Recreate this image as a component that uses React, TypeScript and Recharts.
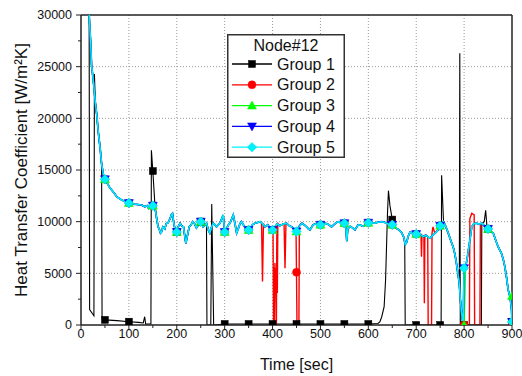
import React from 'react';
import { LineChart, Line, XAxis, YAxis, CartesianGrid, ReferenceLine, Legend, Label } from 'recharts';

const FONT = '"Liberation Sans", Arial, Helvetica, sans-serif';

const legendTitle = 'Node#12';
const seriesNames = ['Group 1', 'Group 2', 'Group 3', 'Group 4', 'Group 5'];
const xTitle = 'Time [sec]';
const yTitle = 'Heat Transfer Coefficient [W/m\u00B2K]';

const xTicks = [0, 50, 100, 150, 200, 250, 300, 350, 400, 450, 500, 550, 600, 650, 700, 750, 800, 850, 900];
const yTicks = [0, 2500, 5000, 7500, 10000, 12500, 15000, 17500, 20000, 22500, 25000, 27500, 30000];
const xGrid = [100, 200, 300, 400, 500, 600, 700, 800];
const yGrid = [5000, 10000, 15000, 20000, 25000];

// shared time base of groups 3, 4, 5
const curveTimes = [
  17, 20, 22, 26, 30, 33, 36, 40, 43, 47,
  50, 55, 60, 67, 75, 85, 95, 100, 110, 120,
  127, 133, 138, 141, 145, 150, 153, 156, 158, 161,
  164, 166, 168, 171, 175, 178, 182, 186, 189, 191,
  194, 197, 200, 203, 207, 210, 214, 217, 219, 222,
  226, 230, 233, 237, 241, 245, 250, 255, 259, 262,
  266, 269, 272, 276, 280, 283, 287, 290, 294, 297,
  300, 304, 308, 311, 315, 318, 322, 325, 329, 332,
  335, 339, 343, 346, 350, 354, 358, 363, 368, 374,
  379, 384, 390, 395, 400, 405, 410, 415, 419, 424,
  429, 435, 440, 445, 450, 455, 461, 466, 471, 475,
  478, 482, 485, 490, 495, 500, 505, 510, 513, 518,
  523, 528, 533, 537, 542, 546, 550, 553, 555, 557,
  562, 567, 572, 576, 579, 584, 589, 594, 600, 607,
  614, 620, 628, 633, 638, 644, 650, 654, 659, 664,
  670, 674, 677, 680, 683, 687, 694, 700, 705, 710,
  715, 720, 725, 729, 735, 739, 744, 747, 750, 753,
  757, 762, 767, 772, 777, 781, 784, 787, 790, 792,
  795, 797, 798, 800, 803, 806, 809, 813, 816, 820,
  826, 831, 837, 842, 846, 850, 854, 861, 866, 871,
  875, 878, 882, 885, 888, 892, 896, 899, 900,
];

const group5Values = [
  30000, 27500, 25200, 23500, 21500, 20300, 18700, 17100, 15600, 14500,
  14100, 13700, 13300, 12900, 12400, 12100, 11900, 11800, 11700, 11650,
  11600, 11450, 11550, 11300, 11400, 11550, 11400, 10950, 10300, 9500,
  9200, 8900, 9000, 9500, 9300, 9800, 9900, 10300, 10700, 10800,
  9800, 9100, 9000, 9500, 9850, 9600, 9500, 8500, 7900, 8600,
  9500, 9700, 10000, 9800, 9400, 9700, 10000, 9500, 9700, 9850,
  9200, 8900, 9400, 9850, 9700, 9500, 9700, 9850, 10300, 10650,
  9000, 9300, 9700, 9850, 10300, 10650, 9700, 8900, 9400, 9800,
  10000, 9700, 9400, 9200, 9200, 9400, 9700, 9850, 9900, 10000,
  9800, 9500, 9700, 9300, 9200, 9500, 9800, 9600, 9700, 9800,
  9850, 9600, 9500, 9300, 9050, 9500, 9850, 9700, 9500, 9300,
  9200, 9500, 9700, 9800, 9700, 9700, 9900, 9850, 9800, 9700,
  9500, 9700, 9900, 10000, 9900, 9900, 9850, 9500, 8100, 9300,
  9550, 9400, 9200, 9500, 9700, 9650, 9550, 9700, 9900, 9900,
  9850, 9950, 10000, 9950, 9850, 9750, 9700, 9550, 9350, 9200,
  8900, 8500, 7800, 8000, 8550, 9000, 8870, 8800, 8900, 8700,
  8550, 8700, 8500, 8400, 8700, 8870, 9100, 9300, 9600, 9850,
  10000, 9500, 8870, 8200, 7580, 6800, 5970, 5000, 4030, 2500,
  1100, 300, 0, 5500, 5600, 6300, 7260, 8500, 9500, 9800,
  9850, 9750, 9850, 9600, 9400, 9300, 9100, 8870, 8200, 7580,
  7200, 6940, 6300, 5650, 4800, 3400, 2700, 1500, 300,
];

const group4Values = [
  30000, 27500, 25200, 23500, 21500, 20300, 18700, 17100, 15600, 14500,
  14100, 13700, 13300, 12900, 12400, 12100, 11900, 11800, 11700, 11650,
  11600, 11450, 11550, 11300, 11400, 11550, 11400, 10950, 10300, 9500,
  9200, 8900, 9000, 9500, 9300, 9800, 9900, 10300, 10700, 10800,
  9800, 9100, 9000, 9500, 9850, 9600, 9500, 8500, 7900, 8600,
  9500, 9700, 10000, 9800, 9400, 9700, 10000, 9500, 9700, 9850,
  9200, 8900, 9400, 9850, 9700, 9500, 9700, 9850, 10300, 10650,
  9000, 9300, 9700, 9850, 10300, 10650, 9700, 8900, 9400, 9800,
  10000, 9700, 9400, 9200, 9200, 9400, 9700, 9850, 9900, 10000,
  9800, 9500, 9700, 9300, 9200, 9500, 9800, 9600, 9700, 9800,
  9850, 9600, 9500, 9300, 9050, 9500, 9850, 9700, 9500, 9300,
  9200, 9500, 9700, 9800, 9700, 9700, 9900, 9850, 9800, 9700,
  9500, 9700, 9900, 10000, 9900, 9900, 9850, 9500, 8100, 9300,
  9550, 9400, 9200, 9500, 9700, 9650, 9550, 9700, 9900, 9900,
  9850, 9950, 10000, 9950, 9850, 9750, 9700, 9550, 9350, 9200,
  8900, 8500, 7800, 8000, 8550, 9000, 8870, 8800, 8900, 8700,
  8550, 8700, 8500, 8400, 8700, 8870, 9100, 9300, 9600, 9850,
  10000, 9500, 8870, 8200, 7580, 6800, 5970, 5000, 4030, 2500,
  1100, 300, 0, 5500, 5600, 6300, 7260, 8500, 9500, 9800,
  9850, 9750, 9850, 9600, 9400, 9300, 9100, 8870, 8200, 7580,
  7200, 6940, 6300, 5650, 4800, 3400, 2700, 1500, 300,
];

const group3Values = [
  30000, 27500, 25200, 23500, 21500, 20300, 18700, 17100, 15600, 14500,
  14100, 13700, 13300, 12900, 12400, 12100, 11900, 11800, 11700, 11650,
  11600, 11450, 11550, 11300, 11400, 11550, 11400, 10950, 10300, 9500,
  9200, 8900, 9000, 9500, 9300, 9800, 9900, 10300, 10700, 10800,
  9800, 9100, 9000, 9500, 9850, 9600, 9500, 8500, 7900, 8600,
  9500, 9700, 10000, 9800, 9400, 9700, 10000, 9500, 9700, 9850,
  9200, 8900, 9400, 9850, 9700, 9500, 9700, 9850, 10300, 10650,
  9000, 9300, 9700, 9850, 10300, 10650, 9700, 8900, 9400, 9800,
  10000, 9700, 9400, 9200, 9200, 9400, 9700, 9850, 9900, 10000,
  9800, 9500, 9700, 9300, 9200, 9500, 9800, 9600, 9700, 9800,
  9850, 9600, 9500, 9300, 9050, 9500, 9850, 9700, 9500, 9300,
  9200, 9500, 9700, 9800, 9700, 9700, 9900, 9850, 9800, 9700,
  9500, 9700, 9900, 10000, 9900, 9900, 9850, 9500, 8100, 9300,
  9550, 9400, 9200, 9500, 9700, 9650, 9550, 9700, 9900, 9900,
  9850, 9950, 10000, 9950, 9850, 9750, 9700, 9550, 9350, 9200,
  8900, 8500, 7800, 8000, 8550, 9000, 8870, 8800, 8900, 8700,
  8550, 8700, 8500, 8400, 8700, 8870, 9100, 9300, 9600, 9850,
  10000, 9500, 8870, 8200, 7580, 6800, 5970, 5000, 4030, 2500,
  1100, 300, 0, 0, 5600, 6300, 7260, 8500, 9500, 9800,
  9850, 9750, 9850, 9600, 9400, 9300, 9100, 8870, 8200, 7580,
  7200, 6940, 6300, 5650, 4800, 3400, 2700, 2800, 2800,
];

const group1Times = [
  17, 18, 27, 28, 30, 33, 36, 40, 43, 44,
  50, 75, 100, 120, 130, 133, 135, 146, 147, 150,
  154, 158, 161, 164, 166, 168, 171, 175, 178, 182,
  186, 189, 191, 194, 197, 200, 203, 207, 210, 214,
  217, 219, 222, 226, 230, 233, 237, 241, 245, 250,
  255, 259, 262, 263, 271, 273, 277, 300, 350, 400,
  450, 500, 550, 600, 620, 624, 628, 633, 636, 638,
  640, 642, 645, 650, 654, 659, 664, 670, 674, 676,
  677, 700, 750, 752, 753, 757, 762, 767, 772, 777,
  781, 784, 787, 790, 791, 792, 800, 836, 837, 842,
  845, 848, 850, 854, 861, 866, 871, 875, 878, 882,
  885, 888, 892, 896, 899, 900,
];
const group1Values = [
  30000, 1500, 900, 24300, 21500, 20300, 18700, 17100, 15600, 600,
  500, 420, 320, 250, 200, 800, 100, 100, 16900, 14900,
  11900, 10300, 9500, 9200, 8900, 9000, 9500, 9300, 9800, 9900,
  10300, 10700, 10800, 9800, 9100, 9000, 9500, 9850, 9600, 9500,
  8500, 7900, 8600, 9500, 9700, 10000, 9800, 9400, 9700, 10000,
  9500, 9700, 9850, 0, 0, 11700, 0, 100, 100, 100,
  100, 100, 100, 100, 150, 300, 800, 1770, 4350, 7580,
  10800, 13000, 11600, 10200, 9550, 9350, 9200, 8900, 8500, 8000,
  0, 0, 0, 0, 14500, 10000, 9500, 8870, 8200, 7580,
  6800, 5970, 5000, 4030, 26300, 0, 0, 0, 9800, 10000,
  11100, 9350, 9300, 9100, 8870, 8200, 7580, 7200, 6940, 6300,
  5650, 4800, 3400, 2700, 1500, 300,
];

const group2Times = [
  17, 20, 22, 26, 30, 33, 36, 40, 43, 47,
  50, 55, 60, 67, 75, 85, 95, 100, 110, 120,
  127, 133, 138, 141, 145, 150, 153, 156, 158, 161,
  164, 166, 168, 171, 175, 178, 182, 186, 189, 191,
  194, 197, 200, 203, 207, 210, 214, 217, 219, 222,
  226, 230, 233, 237, 241, 245, 250, 255, 259, 262,
  266, 269, 272, 276, 280, 283, 287, 290, 294, 297,
  300, 304, 308, 311, 315, 318, 322, 325, 329, 332,
  335, 339, 343, 346, 350, 354, 358, 363, 368, 374,
  377, 379, 381, 384, 390, 395, 400, 401, 402, 403,
  404, 405, 406, 407, 408, 409, 410, 411, 415, 419,
  424, 426, 428, 429, 435, 440, 445, 449, 450, 451,
  455, 456, 461, 466, 471, 475, 478, 482, 485, 490,
  495, 500, 505, 510, 513, 518, 523, 528, 533, 537,
  542, 546, 550, 553, 555, 557, 562, 567, 572, 576,
  579, 584, 589, 594, 600, 607, 614, 620, 628, 633,
  638, 644, 650, 654, 659, 664, 670, 674, 677, 680,
  683, 687, 694, 700, 705, 710, 711, 712, 715, 716,
  717, 718, 720, 724, 725, 732, 733, 735, 739, 744,
  747, 750, 753, 757, 762, 767, 772, 777, 781, 784,
  787, 790, 792, 795, 797, 798, 800, 811, 812, 816,
  821, 822, 833, 834, 837, 842, 846, 850, 854, 861,
  866, 871, 875, 878, 882, 885, 888, 892, 896, 899,
  900,
];
const group2Values = [
  30000, 27500, 25200, 23500, 21500, 20300, 18700, 17100, 15600, 14500,
  14100, 13700, 13300, 12900, 12400, 12100, 11900, 11800, 11700, 11650,
  11600, 11450, 11550, 11300, 11400, 11550, 11400, 10950, 10300, 9500,
  9200, 8900, 9000, 9500, 9300, 9800, 9900, 10300, 10700, 10800,
  9800, 9100, 9000, 9500, 9850, 9600, 9500, 8500, 7900, 8600,
  9500, 9700, 10000, 9800, 9400, 9700, 10000, 9500, 9700, 9850,
  9200, 8900, 9400, 9850, 9700, 9500, 9700, 9850, 10300, 10650,
  9000, 9300, 9700, 9850, 10300, 10650, 9700, 8900, 9400, 9800,
  10000, 9700, 9400, 9200, 9200, 9400, 9700, 9850, 9900, 10000,
  9900, 4200, 9800, 9500, 9700, 9300, 9200, 9300, 0, 5600,
  0, 6000, 3000, 5500, 0, 9700, 3100, 9800, 9600, 9700,
  9800, 5500, 9800, 9850, 9600, 9500, 9300, 9200, 5100, 0,
  0, 9600, 9850, 9700, 9500, 9300, 9200, 9500, 9700, 9800,
  9700, 9700, 9900, 9850, 9800, 9700, 9500, 9700, 9900, 10000,
  9900, 9900, 9850, 9500, 8100, 9300, 9550, 9400, 9200, 9500,
  9700, 9650, 9550, 9700, 9900, 9900, 9850, 9950, 10000, 9950,
  9850, 9750, 9700, 9550, 9350, 9200, 8900, 8500, 7800, 8000,
  8550, 9000, 8870, 8800, 8900, 8700, 6600, 8700, 8550, 8600,
  2100, 8600, 8700, 8500, 0, 0, 8900, 9500, 8870, 9100,
  9300, 9600, 9850, 10000, 9500, 8870, 8200, 7580, 6800, 5970,
  5000, 4030, 2500, 1100, 300, 0, 0, 0, 10300, 10800,
  10650, 0, 0, 9800, 9850, 9600, 9400, 9300, 9100, 8870,
  8200, 7580, 7200, 6940, 6300, 5650, 4800, 3400, 2700, 1500,
  300,
];

const seriesColors = ['#000000', '#FF0000', '#00FF00', '#0000FF', '#00F0F8'];
const seriesShapes = ['square', 'circle', 'triangle', 'invtriangle', 'diamond'];

const toRows = (ts: number[], vs: number[]) => ts.map((t, i) => ({ t, v: vs[i] }));

const seriesData = [
  toRows(group1Times, group1Values),
  toRows(group2Times, group2Values),
  toRows(curveTimes, group3Values),
  toRows(curveTimes, group4Values),
  toRows(curveTimes, group5Values),
];

function Marker({ shape, cx, cy, color }: { shape: string; cx: number; cy: number; color: string }) {
  if (shape === 'square') return <rect x={cx - 3.5} y={cy - 3.5} width={7} height={7} fill={color} stroke={color} strokeWidth={0.5} />;
  if (shape === 'circle') return <circle cx={cx} cy={cy} r={4} fill={color} stroke={color} strokeWidth={0.5} />;
  if (shape === 'triangle')
    return <polygon points={`${cx},${cy - 4.5} ${cx - 4.5},${cy + 3.5} ${cx + 4.5},${cy + 3.5}`} fill={color} stroke={color} strokeWidth={0.5} />;
  if (shape === 'invtriangle')
    return <polygon points={`${cx - 4.5},${cy - 3.5} ${cx + 4.5},${cy - 3.5} ${cx},${cy + 4.5}`} fill={color} stroke={color} strokeWidth={0.5} />;
  return <polygon points={`${cx},${cy - 4.8} ${cx + 4.8},${cy} ${cx},${cy + 4.8} ${cx - 4.8},${cy}`} fill={color} stroke={color} strokeWidth={0.5} />;
}

const makeDot = (shape: string, color: string) => (props: any) => {
  const { cx, cy, payload, index } = props;
  if (cx == null || cy == null || !payload || payload.t % 50 !== 0) return <g key={`d${index}`} />;
  return (
    <g key={`d${index}`}>
      <Marker shape={shape} cx={cx} cy={cy} color={color} />
    </g>
  );
};

const XTick = (props: any) => {
  const { x, y, payload } = props;
  const major = payload.value % 100 === 0;
  return (
    <g>
      <line x1={x} x2={x} y1={y} y2={y + (major ? 5 : 3)} stroke="#222" strokeWidth={1} />
      {major && (
        <text x={x} y={y + 13} textAnchor="middle" fontSize={12.5} fontFamily={FONT} fill="#111">
          {payload.value}
        </text>
      )}
    </g>
  );
};

const YTick = (props: any) => {
  const { x, y, payload } = props;
  const major = payload.value % 5000 === 0;
  return (
    <g>
      <line x1={x} x2={x - (major ? 5 : 3)} y1={y} y2={y} stroke="#222" strokeWidth={1} />
      {major && (
        <text x={x - 9} y={y} dy="0.35em" textAnchor="end" fontSize={12.5} fontFamily={FONT} fill="#111">
          {payload.value}
        </text>
      )}
    </g>
  );
};

const LegendBox = () => (
  <svg width={118} height={124} style={{ display: 'block' }}>
    <rect x={0.75} y={0.75} width={116.5} height={122.5} fill="#fff" stroke="#333" strokeWidth={1.5} />
    <text x={59} y={17} textAnchor="middle" fontSize={16} fontFamily={FONT} fill="#111">
      {legendTitle}
    </text>
    {seriesNames.map((name, i) => {
      const cy = 30 + i * 20.8;
      return (
        <g key={name}>
          <line x1={5} x2={45} y1={cy} y2={cy} stroke={seriesColors[i]} strokeWidth={1.3} />
          <Marker shape={seriesShapes[i]} cx={25} cy={cy} color={seriesColors[i]} />
          <text x={50} y={cy + 5.5} fontSize={16} fontFamily={FONT} fill="#111">
            {name}
          </text>
        </g>
      );
    })}
  </svg>
);

const widths = [1.1, 1.4, 1.4, 1.7, 1.5];

export default function App() {
  return (
    <div style={{ position: 'fixed', left: 0, top: 0, width: 522, height: 376, background: '#fff' }}>
      <LineChart width={522} height={376} margin={{ top: 15, right: 10, bottom: 21, left: 0 }}>
        <CartesianGrid
          verticalValues={xGrid}
          horizontalValues={yGrid}
          stroke="#999"
          strokeDasharray="1 2"
          strokeWidth={1}
        />
        <XAxis
          dataKey="t"
          type="number"
          domain={[0, 900]}
          ticks={xTicks}
          interval={0}
          allowDataOverflow
          height={30}
          tickSize={0}
          tickMargin={0}
          tickLine={false}
          tick={<XTick />}
          axisLine={{ stroke: '#222', strokeWidth: 1.5 }}
        >
          <Label
            content={() => (
              <text x={296.5} y={370} textAnchor="middle" fontSize={16} fontFamily={FONT} fill="#111">
                {xTitle}
              </text>
            )}
          />
        </XAxis>
        <YAxis
          dataKey="v"
          type="number"
          domain={[0, 30000]}
          ticks={yTicks}
          interval={0}
          allowDataOverflow
          width={81}
          tickSize={0}
          tickMargin={0}
          tickLine={false}
          tick={<YTick />}
          axisLine={{ stroke: '#222', strokeWidth: 1.5 }}
        >
          <Label
            content={() => (
              <text
                x={27}
                y={170}
                transform="rotate(-90 27 170)"
                textAnchor="middle"
                fontSize={17}
                fontFamily={FONT}
                fill="#111"
              >
                {yTitle}
              </text>
            )}
          />
        </YAxis>
        <ReferenceLine y={30000} stroke="#222" strokeWidth={1.5} ifOverflow="visible" />
        <ReferenceLine x={900} stroke="#222" strokeWidth={1.5} ifOverflow="visible" />
        {seriesData.map((rows, i) => (
          <Line
            key={seriesNames[i]}
            data={rows}
            dataKey="v"
            name={seriesNames[i]}
            type="linear"
            stroke={seriesColors[i]}
            strokeWidth={widths[i]}
            dot={makeDot(seriesShapes[i], seriesColors[i])}
            activeDot={false}
            isAnimationActive={false}
            legendType="none"
          />
        ))}
        <Legend
          layout="horizontal"
          verticalAlign="middle"
          align="center"
          content={<LegendBox />}
          wrapperStyle={{ left: 227, top: 34, width: 118, height: 124 }}
        />
      </LineChart>
    </div>
  );
}
